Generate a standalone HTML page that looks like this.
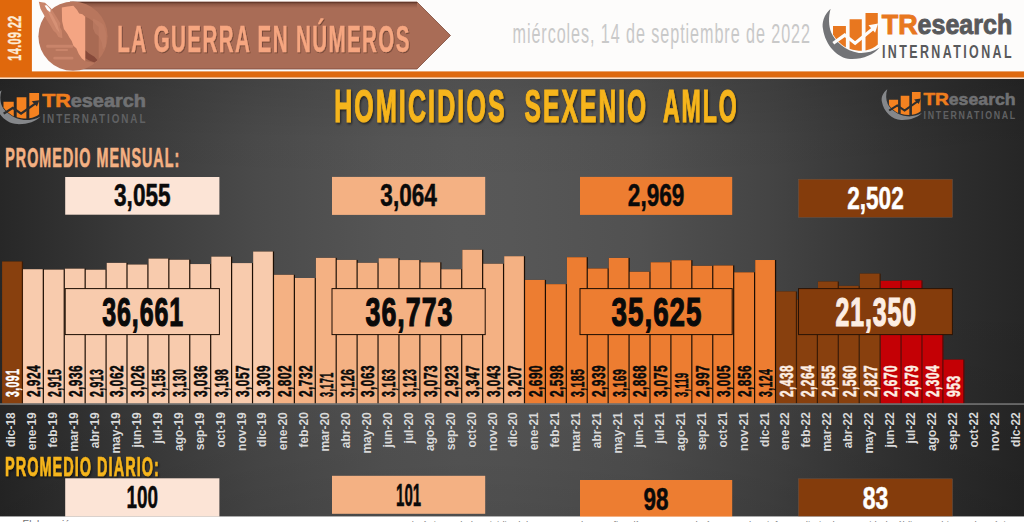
<!DOCTYPE html>
<html lang="es"><head><meta charset="utf-8"><title>La guerra en números - Homicidios sexenio AMLO</title>
<style>html,body{margin:0;padding:0;background:#ffffff;}body{width:1024px;height:522px;overflow:hidden;}svg{display:block;font-family:"Liberation Sans",sans-serif;}</style>
</head><body>
<svg width="1024" height="522" viewBox="0 0 1024 522">
<defs>
<linearGradient id="bg" gradientUnits="userSpaceOnUse" x1="0" y1="0" x2="1024" y2="0">
<stop offset="0" stop-color="#272727"/><stop offset="0.125" stop-color="#3a3a3a"/><stop offset="0.25" stop-color="#4a4a4a"/><stop offset="0.375" stop-color="#555555"/><stop offset="0.45" stop-color="#585858"/><stop offset="0.5" stop-color="#575757"/><stop offset="0.625" stop-color="#515151"/><stop offset="0.75" stop-color="#444444"/><stop offset="0.875" stop-color="#333333"/><stop offset="1" stop-color="#262626"/>
</linearGradient>
<linearGradient id="bgv" gradientUnits="userSpaceOnUse" x1="0" y1="79" x2="0" y2="517">
<stop offset="0" stop-color="#000" stop-opacity="0.10"/><stop offset="0.14" stop-color="#000" stop-opacity="0.012"/><stop offset="0.28" stop-color="#000" stop-opacity="0"/><stop offset="0.5" stop-color="#000" stop-opacity="0"/><stop offset="0.88" stop-color="#000" stop-opacity="0.085"/><stop offset="1" stop-color="#000" stop-opacity="0.12"/>
</linearGradient>
<filter id="ts2" x="-5%" y="-20%" width="110%" height="150%"><feDropShadow dx="0.8" dy="1" stdDeviation="0.6" flood-color="#3a1a10" flood-opacity="0.55"/></filter>
<linearGradient id="rsh" x1="0" y1="0" x2="0" y2="1"><stop offset="0" stop-color="#4a251a" stop-opacity="0.75"/><stop offset="0.35" stop-color="#4a251a" stop-opacity="0.3"/><stop offset="1" stop-color="#4a251a" stop-opacity="0"/></linearGradient>
<filter id="ts" x="-5%" y="-20%" width="110%" height="150%"><feDropShadow dx="1" dy="1.5" stdDeviation="0.8" flood-color="#000" flood-opacity="0.6"/></filter>
</defs>
<rect x="0" y="0" width="1024" height="80" fill="#fdfcfb"/>
<rect x="0" y="0" width="31.9" height="77" fill="#e0680c"/>
<rect x="0" y="71.4" width="1024" height="6.3" fill="#de690f"/>
<rect x="0" y="77.7" width="1024" height="1.4" fill="#f9dfc8"/>
<text transform="translate(21.14 60.70) rotate(-90)" font-size="18.20" font-weight="bold" fill="#fdebd6" letter-spacing="0.80" textLength="45.47" lengthAdjust="spacingAndGlyphs" stroke="#fdebd6" stroke-width="0.4">14.09.22</text>
<polygon points="70,2 417,2 450.5,35.5 417,69 70,69" fill="#a96c56" stroke="#7d4a3a" stroke-width="0.8"/>
<rect x="70" y="2" width="347" height="6" fill="url(#rsh)"/>
<circle cx="73" cy="36.2" r="34.6" fill="#b8765d"/>
<polygon points="85.2,16.7 88.7,18.2 93.0,21.3 95.8,24.4 98.7,27.0 98.7,59.6 93.0,62.4 85.2,61.0" fill="#a86a53" opacity="1"/>
<polygon points="93.0,18.4 98.7,21.3 103.6,24.8 106.5,34.0 105.8,46.8 102.9,49.6 101.8,42.6 98.7,36.2 95.1,33.3 93.0,28.4" fill="#c07f66" opacity="0.6"/>
<polygon points="61.8,7.4 67.5,6.4 73.4,5.7 77.1,9.9 79.1,13.5 82.4,14.2 85.2,16.7 85.2,61.0 81.9,58.4 78.8,53.9 76.3,48.2 73.4,45.7 71.7,41.1 69.2,37.2 67.5,34.0 63.9,29.1 62.1,21.3" fill="#f4a583" opacity="1"/>
<polygon points="38.8,1.7 45.0,2.8 51.1,8.5 57.0,17.7 60.4,23.4 59.8,27.0 61.8,30.5 62.4,38.3 58.4,36.9 56.1,32.9 53.3,30.5 50.2,25.2 46.2,19.1 40.5,8.8" fill="#c98469" opacity="1"/>
<polygon points="46.2,8.2 51.9,13.9 57.0,23.4 59.8,32.9 56.1,28.4 51.1,18.4" fill="#d9967a" opacity="0.75"/>
<polygon points="44.6,5.6 46.8,5.2 50.6,9.6 50.2,12.2 47.0,9.8" fill="#fdfcfb"/>
<polygon points="85.6,50.4 88.7,53.2 94.4,56.7 97.5,60.3 94.4,62.4 88.7,60.3 85.6,58.2" fill="#86493a" opacity="1"/>
<rect x="46.2" y="44.7" width="27.0" height="3.0" rx="1.2" fill="#cb876c" opacity="0.85"/>
<rect x="55.4" y="48.9" width="12.8" height="2.1" rx="1.2" fill="#cb876c" opacity="0.85"/>
<rect x="53.3" y="56.7" width="20.1" height="2.8" rx="1.2" fill="#cb876c" opacity="0.85"/>
<text x="117.20" y="52.40" font-size="37.50" font-weight="bold" fill="#f6a680" letter-spacing="2.50" textLength="293.67" lengthAdjust="spacingAndGlyphs" filter="url(#ts2)" stroke="#f6a680" stroke-width="0.4">LA GUERRA EN NÚMEROS</text>
<text x="512.50" y="42.80" font-size="28.00" font-weight="normal" fill="#c9c9c9" letter-spacing="1.60" textLength="298.42" lengthAdjust="spacingAndGlyphs" >miércoles, 14 de septiembre de 2022</text>
<g transform="translate(881.70 15.00) scale(1.0000 1.0000)" opacity="1">
<path d="M -51.1 -6.3 C -58 0, -60 8, -58.7 14 C -56.5 30, -44 43.5, -31.5 44 C -19 44.5, -8 40, -2.1 32.6 C -9 37, -17 38.5, -22.9 37.9 C -36 36.5, -47 26, -50.5 17.6 C -53 11, -53.5 2, -51.1 -6.3 Z" fill="#737477"/>
<path d="M -48.7 10.9 L -35.8 10.9 L -35.8 32.6 C -41 29.5, -45.5 25, -48.7 19.5 Z" fill="#e8771f"/>
<path d="M -32.1 4.2 L -19.9 4.2 L -19.9 35.8 C -24 35.8, -28 35.2, -32.1 33.8 Z" fill="#e8771f"/>
<path d="M -16.2 -2 L -3.9 -2 L -3.9 29.5 C -7 32.5, -11 34.6, -16.2 35.5 Z" fill="#e8771f"/>
<path d="M -48.4 28.3 L -37 20.1 L -26.6 28.3 L -8.5 13.5" fill="none" stroke="#fdfcfb" stroke-width="3.2" stroke-linejoin="miter"/>
<path d="M -13.2 10.2 L -3.6 8.6 L -6.6 17.8 Z" fill="#fdfcfb"/>
<text x="0" y="18.9" font-size="27.4" font-weight="bold" fill="#e8771f" stroke="#e8771f" stroke-width="0.9" textLength="35.9" lengthAdjust="spacingAndGlyphs">TR</text>
<text x="35.9" y="18.9" font-size="27.4" font-weight="bold" fill="#58595b" stroke="#58595b" stroke-width="0.9" textLength="94.6" lengthAdjust="spacingAndGlyphs">esearch</text>
<text x="0.3" y="42.8" font-size="18.6" font-weight="bold" fill="#58595b" letter-spacing="3.6" textLength="132.0" lengthAdjust="spacingAndGlyphs">INTERNATIONAL</text>
</g>
<rect x="0" y="79.0" width="1024" height="437.7" fill="url(#bg)"/>
<rect x="0" y="79.0" width="1024" height="437.7" fill="url(#bgv)"/>
<g transform="translate(42.20 94.40) scale(0.7950 0.6750)" opacity="1">
<path d="M -51.1 -6.3 C -58 0, -60 8, -58.7 14 C -56.5 30, -44 43.5, -31.5 44 C -19 44.5, -8 40, -2.1 32.6 C -9 37, -17 38.5, -22.9 37.9 C -36 36.5, -47 26, -50.5 17.6 C -53 11, -53.5 2, -51.1 -6.3 Z" fill="#85878a"/>
<path d="M -48.7 10.9 L -35.8 10.9 L -35.8 32.6 C -41 29.5, -45.5 25, -48.7 19.5 Z" fill="#f58220"/>
<path d="M -32.1 4.2 L -19.9 4.2 L -19.9 35.8 C -24 35.8, -28 35.2, -32.1 33.8 Z" fill="#f58220"/>
<path d="M -16.2 -2 L -3.9 -2 L -3.9 29.5 C -7 32.5, -11 34.6, -16.2 35.5 Z" fill="#f58220"/>
<path d="M -48.4 28.3 L -37 20.1 L -26.6 28.3 L -8.5 13.5" fill="none" stroke="#2e2e2e" stroke-width="3.2" stroke-linejoin="miter"/>
<path d="M -13.2 10.2 L -3.6 8.6 L -6.6 17.8 Z" fill="#2e2e2e"/>
<text x="0" y="18.9" font-size="27.4" font-weight="bold" fill="#ef7d1d" stroke="#ef7d1d" stroke-width="0.9" textLength="35.9" lengthAdjust="spacingAndGlyphs">TR</text>
<text x="35.9" y="18.9" font-size="27.4" font-weight="bold" fill="#707173" stroke="#707173" stroke-width="0.9" textLength="94.6" lengthAdjust="spacingAndGlyphs">esearch</text>
<text x="0.3" y="42.8" font-size="18.6" font-weight="bold" fill="#606163" letter-spacing="3.6" textLength="132.0" lengthAdjust="spacingAndGlyphs">INTERNATIONAL</text>
</g>
<g transform="translate(923.40 93.20) scale(0.7070 0.6100)" opacity="1">
<path d="M -51.1 -6.3 C -58 0, -60 8, -58.7 14 C -56.5 30, -44 43.5, -31.5 44 C -19 44.5, -8 40, -2.1 32.6 C -9 37, -17 38.5, -22.9 37.9 C -36 36.5, -47 26, -50.5 17.6 C -53 11, -53.5 2, -51.1 -6.3 Z" fill="#85878a"/>
<path d="M -48.7 10.9 L -35.8 10.9 L -35.8 32.6 C -41 29.5, -45.5 25, -48.7 19.5 Z" fill="#f58220"/>
<path d="M -32.1 4.2 L -19.9 4.2 L -19.9 35.8 C -24 35.8, -28 35.2, -32.1 33.8 Z" fill="#f58220"/>
<path d="M -16.2 -2 L -3.9 -2 L -3.9 29.5 C -7 32.5, -11 34.6, -16.2 35.5 Z" fill="#f58220"/>
<path d="M -48.4 28.3 L -37 20.1 L -26.6 28.3 L -8.5 13.5" fill="none" stroke="#2e2e2e" stroke-width="3.2" stroke-linejoin="miter"/>
<path d="M -13.2 10.2 L -3.6 8.6 L -6.6 17.8 Z" fill="#2e2e2e"/>
<text x="0" y="18.9" font-size="27.4" font-weight="bold" fill="#ef7d1d" stroke="#ef7d1d" stroke-width="0.9" textLength="35.9" lengthAdjust="spacingAndGlyphs">TR</text>
<text x="35.9" y="18.9" font-size="27.4" font-weight="bold" fill="#707173" stroke="#707173" stroke-width="0.9" textLength="94.6" lengthAdjust="spacingAndGlyphs">esearch</text>
<text x="0.3" y="42.8" font-size="18.6" font-weight="bold" fill="#606163" letter-spacing="3.6" textLength="132.0" lengthAdjust="spacingAndGlyphs">INTERNATIONAL</text>
</g>
<g filter="url(#ts)">
<text x="334.20" y="121.60" font-size="46.60" font-weight="bold" fill="#f6b51b" letter-spacing="4.00" textLength="172.54" lengthAdjust="spacingAndGlyphs" stroke="#f6b51b" stroke-width="1.2">HOMICIDIOS</text>
<text x="524.60" y="121.60" font-size="46.60" font-weight="bold" fill="#f6b51b" letter-spacing="4.00" textLength="123.70" lengthAdjust="spacingAndGlyphs" stroke="#f6b51b" stroke-width="1.2">SEXENIO</text>
<text x="662.90" y="121.60" font-size="46.60" font-weight="bold" fill="#f6b51b" letter-spacing="4.00" textLength="75.88" lengthAdjust="spacingAndGlyphs" stroke="#f6b51b" stroke-width="1.2">AMLO</text>
</g>
<text x="5.20" y="166.90" font-size="27.20" font-weight="bold" fill="#f4b183" letter-spacing="2.00" textLength="175.15" lengthAdjust="spacingAndGlyphs" stroke="#f4b183" stroke-width="0.7">PROMEDIO MENSUAL:</text>
<g filter="url(#ts)">
<text x="5.00" y="475.60" font-size="28.00" font-weight="bold" fill="#f6b51b" letter-spacing="2.00" textLength="154.83" lengthAdjust="spacingAndGlyphs" stroke="#f6b51b" stroke-width="0.7">PROMEDIO DIARIO:</text>
</g>
<rect x="2.10" y="261.52" width="20.92" height="141.88" fill="#3c1c07"/>
<rect x="2.10" y="261.52" width="19.70" height="142.18" fill="#88400e"/>
<rect x="23.02" y="269.19" width="20.92" height="134.21" fill="#1c0d02"/>
<rect x="23.02" y="269.19" width="19.70" height="134.51" fill="#f8cbad"/>
<rect x="43.94" y="269.60" width="20.92" height="133.80" fill="#1c0d02"/>
<rect x="43.94" y="269.60" width="19.70" height="134.10" fill="#f8cbad"/>
<rect x="64.86" y="268.64" width="20.92" height="134.76" fill="#1c0d02"/>
<rect x="64.86" y="268.64" width="19.70" height="135.06" fill="#f8cbad"/>
<rect x="85.78" y="269.69" width="20.92" height="133.71" fill="#1c0d02"/>
<rect x="85.78" y="269.69" width="19.70" height="134.01" fill="#f8cbad"/>
<rect x="106.70" y="262.85" width="20.92" height="140.55" fill="#1c0d02"/>
<rect x="106.70" y="262.85" width="19.70" height="140.85" fill="#f8cbad"/>
<rect x="127.62" y="264.51" width="20.92" height="138.89" fill="#1c0d02"/>
<rect x="127.62" y="264.51" width="19.70" height="139.19" fill="#f8cbad"/>
<rect x="148.54" y="258.59" width="20.92" height="144.81" fill="#1c0d02"/>
<rect x="148.54" y="258.59" width="19.70" height="145.11" fill="#f8cbad"/>
<rect x="169.46" y="259.73" width="20.92" height="143.67" fill="#1c0d02"/>
<rect x="169.46" y="259.73" width="19.70" height="143.97" fill="#f8cbad"/>
<rect x="190.38" y="264.05" width="20.92" height="139.35" fill="#1c0d02"/>
<rect x="190.38" y="264.05" width="19.70" height="139.65" fill="#f8cbad"/>
<rect x="211.30" y="256.61" width="20.92" height="146.79" fill="#1c0d02"/>
<rect x="211.30" y="256.61" width="19.70" height="147.09" fill="#f8cbad"/>
<rect x="232.22" y="263.08" width="20.92" height="140.32" fill="#1c0d02"/>
<rect x="232.22" y="263.08" width="19.70" height="140.62" fill="#f8cbad"/>
<rect x="253.14" y="251.52" width="20.92" height="151.88" fill="#1c0d02"/>
<rect x="253.14" y="251.52" width="19.70" height="152.18" fill="#f8cbad"/>
<rect x="274.06" y="274.79" width="20.92" height="128.61" fill="#1c0d02"/>
<rect x="274.06" y="274.79" width="19.70" height="128.91" fill="#f4b183"/>
<rect x="294.98" y="278.00" width="20.92" height="125.40" fill="#1c0d02"/>
<rect x="294.98" y="278.00" width="19.70" height="125.70" fill="#f4b183"/>
<rect x="315.90" y="257.85" width="20.92" height="145.55" fill="#1c0d02"/>
<rect x="315.90" y="257.85" width="19.70" height="145.85" fill="#f4b183"/>
<rect x="336.82" y="259.92" width="20.92" height="143.48" fill="#1c0d02"/>
<rect x="336.82" y="259.92" width="19.70" height="143.78" fill="#f4b183"/>
<rect x="357.74" y="262.81" width="20.92" height="140.59" fill="#1c0d02"/>
<rect x="357.74" y="262.81" width="19.70" height="140.89" fill="#f4b183"/>
<rect x="378.66" y="258.22" width="20.92" height="145.18" fill="#1c0d02"/>
<rect x="378.66" y="258.22" width="19.70" height="145.48" fill="#f4b183"/>
<rect x="399.58" y="260.05" width="20.92" height="143.35" fill="#1c0d02"/>
<rect x="399.58" y="260.05" width="19.70" height="143.65" fill="#f4b183"/>
<rect x="420.50" y="262.35" width="20.92" height="141.05" fill="#1c0d02"/>
<rect x="420.50" y="262.35" width="19.70" height="141.35" fill="#f4b183"/>
<rect x="441.42" y="269.23" width="20.92" height="134.17" fill="#1c0d02"/>
<rect x="441.42" y="269.23" width="19.70" height="134.47" fill="#f4b183"/>
<rect x="462.34" y="249.77" width="20.92" height="153.63" fill="#1c0d02"/>
<rect x="462.34" y="249.77" width="19.70" height="153.93" fill="#f4b183"/>
<rect x="483.26" y="263.73" width="20.92" height="139.67" fill="#1c0d02"/>
<rect x="483.26" y="263.73" width="19.70" height="139.97" fill="#f4b183"/>
<rect x="504.18" y="256.20" width="20.92" height="147.20" fill="#1c0d02"/>
<rect x="504.18" y="256.20" width="19.70" height="147.50" fill="#f4b183"/>
<rect x="525.10" y="279.93" width="20.92" height="123.47" fill="#1c0d02"/>
<rect x="525.10" y="279.93" width="19.70" height="123.77" fill="#ed7d31"/>
<rect x="546.02" y="284.15" width="20.92" height="119.25" fill="#1c0d02"/>
<rect x="546.02" y="284.15" width="19.70" height="119.55" fill="#ed7d31"/>
<rect x="566.94" y="257.21" width="20.92" height="146.19" fill="#1c0d02"/>
<rect x="566.94" y="257.21" width="19.70" height="146.49" fill="#ed7d31"/>
<rect x="587.86" y="268.50" width="20.92" height="134.90" fill="#1c0d02"/>
<rect x="587.86" y="268.50" width="19.70" height="135.20" fill="#ed7d31"/>
<rect x="608.78" y="257.94" width="20.92" height="145.46" fill="#1c0d02"/>
<rect x="608.78" y="257.94" width="19.70" height="145.76" fill="#ed7d31"/>
<rect x="629.70" y="271.76" width="20.92" height="131.64" fill="#1c0d02"/>
<rect x="629.70" y="271.76" width="19.70" height="131.94" fill="#ed7d31"/>
<rect x="650.62" y="262.26" width="20.92" height="141.14" fill="#1c0d02"/>
<rect x="650.62" y="262.26" width="19.70" height="141.44" fill="#ed7d31"/>
<rect x="671.54" y="260.24" width="20.92" height="143.16" fill="#1c0d02"/>
<rect x="671.54" y="260.24" width="19.70" height="143.46" fill="#ed7d31"/>
<rect x="692.46" y="265.84" width="20.92" height="137.56" fill="#1c0d02"/>
<rect x="692.46" y="265.84" width="19.70" height="137.86" fill="#ed7d31"/>
<rect x="713.38" y="265.47" width="20.92" height="137.93" fill="#1c0d02"/>
<rect x="713.38" y="265.47" width="19.70" height="138.23" fill="#ed7d31"/>
<rect x="734.30" y="272.31" width="20.92" height="131.09" fill="#1c0d02"/>
<rect x="734.30" y="272.31" width="19.70" height="131.39" fill="#ed7d31"/>
<rect x="755.22" y="260.01" width="20.92" height="143.39" fill="#1c0d02"/>
<rect x="755.22" y="260.01" width="19.70" height="143.69" fill="#ed7d31"/>
<rect x="776.14" y="291.50" width="20.92" height="111.90" fill="#3c1c07"/>
<rect x="776.14" y="291.50" width="19.70" height="112.20" fill="#88400e"/>
<rect x="797.06" y="299.48" width="20.92" height="103.92" fill="#3c1c07"/>
<rect x="797.06" y="299.48" width="19.70" height="104.22" fill="#88400e"/>
<rect x="817.98" y="281.54" width="20.92" height="121.86" fill="#3c1c07"/>
<rect x="817.98" y="281.54" width="19.70" height="122.16" fill="#88400e"/>
<rect x="838.90" y="285.90" width="20.92" height="117.50" fill="#3c1c07"/>
<rect x="838.90" y="285.90" width="19.70" height="117.80" fill="#88400e"/>
<rect x="859.82" y="273.64" width="20.92" height="129.76" fill="#3c1c07"/>
<rect x="859.82" y="273.64" width="19.70" height="130.06" fill="#88400e"/>
<rect x="880.74" y="280.85" width="20.92" height="122.55" fill="#5e0805"/>
<rect x="880.74" y="280.85" width="19.70" height="122.85" fill="#c40005"/>
<rect x="901.66" y="280.43" width="20.92" height="122.97" fill="#5e0805"/>
<rect x="901.66" y="280.43" width="19.70" height="123.27" fill="#c40005"/>
<rect x="922.58" y="297.65" width="20.92" height="105.75" fill="#5e0805"/>
<rect x="922.58" y="297.65" width="19.70" height="106.05" fill="#c40005"/>
<rect x="943.50" y="359.66" width="20.92" height="43.74" fill="#5e0805"/>
<rect x="943.50" y="359.66" width="19.70" height="44.04" fill="#c40005"/>
<rect x="0" y="403.3" width="1024" height="1.5" fill="#787878"/>
<rect x="65.20" y="288.6" width="154.20" height="46" fill="#f8cbad" stroke="#1c0d02" stroke-width="1"/>
<rect x="332.00" y="288.6" width="153.20" height="46" fill="#f4b183" stroke="#1c0d02" stroke-width="1"/>
<rect x="580.00" y="288.6" width="152.20" height="46" fill="#ed7d31" stroke="#1c0d02" stroke-width="1"/>
<rect x="798.50" y="288.6" width="153.90" height="46" fill="#843c0c" stroke="#2a1305" stroke-width="1"/>
<text transform="translate(18.83 397.00) rotate(-90)" font-size="18.60" font-weight="bold" fill="#ffffff" letter-spacing="0.80" textLength="28.35" lengthAdjust="spacingAndGlyphs" stroke="#ffffff" stroke-width="0.55">3,091</text>
<text transform="translate(39.75 397.00) rotate(-90)" font-size="18.60" font-weight="bold" fill="#0a0a0a" letter-spacing="0.80" textLength="32.11" lengthAdjust="spacingAndGlyphs" stroke="#0a0a0a" stroke-width="0.55">2,924</text>
<text transform="translate(60.67 397.00) rotate(-90)" font-size="18.60" font-weight="bold" fill="#0a0a0a" letter-spacing="0.80" textLength="28.35" lengthAdjust="spacingAndGlyphs" stroke="#0a0a0a" stroke-width="0.55">2,915</text>
<text transform="translate(81.59 397.00) rotate(-90)" font-size="18.60" font-weight="bold" fill="#0a0a0a" letter-spacing="0.80" textLength="32.11" lengthAdjust="spacingAndGlyphs" stroke="#0a0a0a" stroke-width="0.55">2,936</text>
<text transform="translate(102.51 397.00) rotate(-90)" font-size="18.60" font-weight="bold" fill="#0a0a0a" letter-spacing="0.80" textLength="28.35" lengthAdjust="spacingAndGlyphs" stroke="#0a0a0a" stroke-width="0.55">2,913</text>
<text transform="translate(123.43 397.00) rotate(-90)" font-size="18.60" font-weight="bold" fill="#0a0a0a" letter-spacing="0.80" textLength="32.11" lengthAdjust="spacingAndGlyphs" stroke="#0a0a0a" stroke-width="0.55">3,062</text>
<text transform="translate(144.35 397.00) rotate(-90)" font-size="18.60" font-weight="bold" fill="#0a0a0a" letter-spacing="0.80" textLength="32.11" lengthAdjust="spacingAndGlyphs" stroke="#0a0a0a" stroke-width="0.55">3,026</text>
<text transform="translate(165.27 397.00) rotate(-90)" font-size="18.60" font-weight="bold" fill="#0a0a0a" letter-spacing="0.80" textLength="28.35" lengthAdjust="spacingAndGlyphs" stroke="#0a0a0a" stroke-width="0.55">3,155</text>
<text transform="translate(186.19 397.00) rotate(-90)" font-size="18.60" font-weight="bold" fill="#0a0a0a" letter-spacing="0.80" textLength="28.35" lengthAdjust="spacingAndGlyphs" stroke="#0a0a0a" stroke-width="0.55">3,130</text>
<text transform="translate(207.11 397.00) rotate(-90)" font-size="18.60" font-weight="bold" fill="#0a0a0a" letter-spacing="0.80" textLength="32.11" lengthAdjust="spacingAndGlyphs" stroke="#0a0a0a" stroke-width="0.55">3,036</text>
<text transform="translate(228.03 397.00) rotate(-90)" font-size="18.60" font-weight="bold" fill="#0a0a0a" letter-spacing="0.80" textLength="28.35" lengthAdjust="spacingAndGlyphs" stroke="#0a0a0a" stroke-width="0.55">3,198</text>
<text transform="translate(248.95 397.00) rotate(-90)" font-size="18.60" font-weight="bold" fill="#0a0a0a" letter-spacing="0.80" textLength="32.11" lengthAdjust="spacingAndGlyphs" stroke="#0a0a0a" stroke-width="0.55">3,057</text>
<text transform="translate(269.87 397.00) rotate(-90)" font-size="18.60" font-weight="bold" fill="#0a0a0a" letter-spacing="0.80" textLength="32.11" lengthAdjust="spacingAndGlyphs" stroke="#0a0a0a" stroke-width="0.55">3,309</text>
<text transform="translate(290.79 397.00) rotate(-90)" font-size="18.60" font-weight="bold" fill="#0a0a0a" letter-spacing="0.80" textLength="32.11" lengthAdjust="spacingAndGlyphs" stroke="#0a0a0a" stroke-width="0.55">2,802</text>
<text transform="translate(311.71 397.00) rotate(-90)" font-size="18.60" font-weight="bold" fill="#0a0a0a" letter-spacing="0.80" textLength="32.11" lengthAdjust="spacingAndGlyphs" stroke="#0a0a0a" stroke-width="0.55">2,732</text>
<text transform="translate(332.63 397.00) rotate(-90)" font-size="18.60" font-weight="bold" fill="#0a0a0a" letter-spacing="0.80" textLength="24.59" lengthAdjust="spacingAndGlyphs" stroke="#0a0a0a" stroke-width="0.55">3,171</text>
<text transform="translate(353.55 397.00) rotate(-90)" font-size="18.60" font-weight="bold" fill="#0a0a0a" letter-spacing="0.80" textLength="28.35" lengthAdjust="spacingAndGlyphs" stroke="#0a0a0a" stroke-width="0.55">3,126</text>
<text transform="translate(374.47 397.00) rotate(-90)" font-size="18.60" font-weight="bold" fill="#0a0a0a" letter-spacing="0.80" textLength="32.11" lengthAdjust="spacingAndGlyphs" stroke="#0a0a0a" stroke-width="0.55">3,063</text>
<text transform="translate(395.39 397.00) rotate(-90)" font-size="18.60" font-weight="bold" fill="#0a0a0a" letter-spacing="0.80" textLength="28.35" lengthAdjust="spacingAndGlyphs" stroke="#0a0a0a" stroke-width="0.55">3,163</text>
<text transform="translate(416.31 397.00) rotate(-90)" font-size="18.60" font-weight="bold" fill="#0a0a0a" letter-spacing="0.80" textLength="28.35" lengthAdjust="spacingAndGlyphs" stroke="#0a0a0a" stroke-width="0.55">3,123</text>
<text transform="translate(437.23 397.00) rotate(-90)" font-size="18.60" font-weight="bold" fill="#0a0a0a" letter-spacing="0.80" textLength="32.11" lengthAdjust="spacingAndGlyphs" stroke="#0a0a0a" stroke-width="0.55">3,073</text>
<text transform="translate(458.15 397.00) rotate(-90)" font-size="18.60" font-weight="bold" fill="#0a0a0a" letter-spacing="0.80" textLength="32.11" lengthAdjust="spacingAndGlyphs" stroke="#0a0a0a" stroke-width="0.55">2,923</text>
<text transform="translate(479.07 397.00) rotate(-90)" font-size="18.60" font-weight="bold" fill="#0a0a0a" letter-spacing="0.80" textLength="32.11" lengthAdjust="spacingAndGlyphs" stroke="#0a0a0a" stroke-width="0.55">3,347</text>
<text transform="translate(499.99 397.00) rotate(-90)" font-size="18.60" font-weight="bold" fill="#0a0a0a" letter-spacing="0.80" textLength="32.11" lengthAdjust="spacingAndGlyphs" stroke="#0a0a0a" stroke-width="0.55">3,043</text>
<text transform="translate(520.91 397.00) rotate(-90)" font-size="18.60" font-weight="bold" fill="#0a0a0a" letter-spacing="0.80" textLength="32.11" lengthAdjust="spacingAndGlyphs" stroke="#0a0a0a" stroke-width="0.55">3,207</text>
<text transform="translate(541.83 397.00) rotate(-90)" font-size="18.60" font-weight="bold" fill="#0a0a0a" letter-spacing="0.80" textLength="32.11" lengthAdjust="spacingAndGlyphs" stroke="#0a0a0a" stroke-width="0.55">2,690</text>
<text transform="translate(562.75 397.00) rotate(-90)" font-size="18.60" font-weight="bold" fill="#0a0a0a" letter-spacing="0.80" textLength="32.11" lengthAdjust="spacingAndGlyphs" stroke="#0a0a0a" stroke-width="0.55">2,598</text>
<text transform="translate(583.67 397.00) rotate(-90)" font-size="18.60" font-weight="bold" fill="#0a0a0a" letter-spacing="0.80" textLength="28.35" lengthAdjust="spacingAndGlyphs" stroke="#0a0a0a" stroke-width="0.55">3,185</text>
<text transform="translate(604.59 397.00) rotate(-90)" font-size="18.60" font-weight="bold" fill="#0a0a0a" letter-spacing="0.80" textLength="32.11" lengthAdjust="spacingAndGlyphs" stroke="#0a0a0a" stroke-width="0.55">2,939</text>
<text transform="translate(625.51 397.00) rotate(-90)" font-size="18.60" font-weight="bold" fill="#0a0a0a" letter-spacing="0.80" textLength="28.35" lengthAdjust="spacingAndGlyphs" stroke="#0a0a0a" stroke-width="0.55">3,169</text>
<text transform="translate(646.43 397.00) rotate(-90)" font-size="18.60" font-weight="bold" fill="#0a0a0a" letter-spacing="0.80" textLength="32.11" lengthAdjust="spacingAndGlyphs" stroke="#0a0a0a" stroke-width="0.55">2,868</text>
<text transform="translate(667.35 397.00) rotate(-90)" font-size="18.60" font-weight="bold" fill="#0a0a0a" letter-spacing="0.80" textLength="32.11" lengthAdjust="spacingAndGlyphs" stroke="#0a0a0a" stroke-width="0.55">3,075</text>
<text transform="translate(688.27 397.00) rotate(-90)" font-size="18.60" font-weight="bold" fill="#0a0a0a" letter-spacing="0.80" textLength="24.59" lengthAdjust="spacingAndGlyphs" stroke="#0a0a0a" stroke-width="0.55">3,119</text>
<text transform="translate(709.19 397.00) rotate(-90)" font-size="18.60" font-weight="bold" fill="#0a0a0a" letter-spacing="0.80" textLength="32.11" lengthAdjust="spacingAndGlyphs" stroke="#0a0a0a" stroke-width="0.55">2,997</text>
<text transform="translate(730.11 397.00) rotate(-90)" font-size="18.60" font-weight="bold" fill="#0a0a0a" letter-spacing="0.80" textLength="32.11" lengthAdjust="spacingAndGlyphs" stroke="#0a0a0a" stroke-width="0.55">3,005</text>
<text transform="translate(751.03 397.00) rotate(-90)" font-size="18.60" font-weight="bold" fill="#0a0a0a" letter-spacing="0.80" textLength="32.11" lengthAdjust="spacingAndGlyphs" stroke="#0a0a0a" stroke-width="0.55">2,856</text>
<text transform="translate(771.95 397.00) rotate(-90)" font-size="18.60" font-weight="bold" fill="#0a0a0a" letter-spacing="0.80" textLength="28.35" lengthAdjust="spacingAndGlyphs" stroke="#0a0a0a" stroke-width="0.55">3,124</text>
<text transform="translate(792.87 397.00) rotate(-90)" font-size="18.60" font-weight="bold" fill="#fdeee3" letter-spacing="0.80" textLength="32.11" lengthAdjust="spacingAndGlyphs" stroke="#fdeee3" stroke-width="0.55">2,438</text>
<text transform="translate(813.79 397.00) rotate(-90)" font-size="18.60" font-weight="bold" fill="#fdeee3" letter-spacing="0.80" textLength="32.11" lengthAdjust="spacingAndGlyphs" stroke="#fdeee3" stroke-width="0.55">2,264</text>
<text transform="translate(834.71 397.00) rotate(-90)" font-size="18.60" font-weight="bold" fill="#fdeee3" letter-spacing="0.80" textLength="32.11" lengthAdjust="spacingAndGlyphs" stroke="#fdeee3" stroke-width="0.55">2,655</text>
<text transform="translate(855.63 397.00) rotate(-90)" font-size="18.60" font-weight="bold" fill="#fdeee3" letter-spacing="0.80" textLength="32.11" lengthAdjust="spacingAndGlyphs" stroke="#fdeee3" stroke-width="0.55">2,560</text>
<text transform="translate(876.55 397.00) rotate(-90)" font-size="18.60" font-weight="bold" fill="#fdeee3" letter-spacing="0.80" textLength="32.11" lengthAdjust="spacingAndGlyphs" stroke="#fdeee3" stroke-width="0.55">2,827</text>
<text transform="translate(897.47 397.00) rotate(-90)" font-size="18.60" font-weight="bold" fill="#fdeee3" letter-spacing="0.80" textLength="32.11" lengthAdjust="spacingAndGlyphs" stroke="#fdeee3" stroke-width="0.55">2,670</text>
<text transform="translate(918.39 397.00) rotate(-90)" font-size="18.60" font-weight="bold" fill="#fdeee3" letter-spacing="0.80" textLength="32.11" lengthAdjust="spacingAndGlyphs" stroke="#fdeee3" stroke-width="0.55">2,679</text>
<text transform="translate(939.31 397.00) rotate(-90)" font-size="18.60" font-weight="bold" fill="#fdeee3" letter-spacing="0.80" textLength="32.11" lengthAdjust="spacingAndGlyphs" stroke="#fdeee3" stroke-width="0.55">2,304</text>
<text transform="translate(960.23 397.00) rotate(-90)" font-size="18.60" font-weight="bold" fill="#fdeee3" letter-spacing="0.80" textLength="21.82" lengthAdjust="spacingAndGlyphs" stroke="#fdeee3" stroke-width="0.55">953</text>
<text transform="translate(15.40 412.2) rotate(-90)" font-size="12" font-weight="bold" fill="#d9d9d9" text-anchor="end">dic-18</text>
<text transform="translate(36.32 412.2) rotate(-90)" font-size="12" font-weight="bold" fill="#d9d9d9" text-anchor="end">ene-19</text>
<text transform="translate(57.24 412.2) rotate(-90)" font-size="12" font-weight="bold" fill="#d9d9d9" text-anchor="end">feb-19</text>
<text transform="translate(78.16 412.2) rotate(-90)" font-size="12" font-weight="bold" fill="#d9d9d9" text-anchor="end">mar-19</text>
<text transform="translate(99.08 412.2) rotate(-90)" font-size="12" font-weight="bold" fill="#d9d9d9" text-anchor="end">abr-19</text>
<text transform="translate(120.00 412.2) rotate(-90)" font-size="12" font-weight="bold" fill="#d9d9d9" text-anchor="end">may-19</text>
<text transform="translate(140.92 412.2) rotate(-90)" font-size="12" font-weight="bold" fill="#d9d9d9" text-anchor="end">jun-19</text>
<text transform="translate(161.84 412.2) rotate(-90)" font-size="12" font-weight="bold" fill="#d9d9d9" text-anchor="end">jul-19</text>
<text transform="translate(182.76 412.2) rotate(-90)" font-size="12" font-weight="bold" fill="#d9d9d9" text-anchor="end">ago-19</text>
<text transform="translate(203.68 412.2) rotate(-90)" font-size="12" font-weight="bold" fill="#d9d9d9" text-anchor="end">sep-19</text>
<text transform="translate(224.60 412.2) rotate(-90)" font-size="12" font-weight="bold" fill="#d9d9d9" text-anchor="end">oct-19</text>
<text transform="translate(245.52 412.2) rotate(-90)" font-size="12" font-weight="bold" fill="#d9d9d9" text-anchor="end">nov-19</text>
<text transform="translate(266.44 412.2) rotate(-90)" font-size="12" font-weight="bold" fill="#d9d9d9" text-anchor="end">dic-19</text>
<text transform="translate(287.36 412.2) rotate(-90)" font-size="12" font-weight="bold" fill="#d9d9d9" text-anchor="end">ene-20</text>
<text transform="translate(308.28 412.2) rotate(-90)" font-size="12" font-weight="bold" fill="#d9d9d9" text-anchor="end">feb-20</text>
<text transform="translate(329.20 412.2) rotate(-90)" font-size="12" font-weight="bold" fill="#d9d9d9" text-anchor="end">mar-20</text>
<text transform="translate(350.12 412.2) rotate(-90)" font-size="12" font-weight="bold" fill="#d9d9d9" text-anchor="end">abr-20</text>
<text transform="translate(371.04 412.2) rotate(-90)" font-size="12" font-weight="bold" fill="#d9d9d9" text-anchor="end">may-20</text>
<text transform="translate(391.96 412.2) rotate(-90)" font-size="12" font-weight="bold" fill="#d9d9d9" text-anchor="end">jun-20</text>
<text transform="translate(412.88 412.2) rotate(-90)" font-size="12" font-weight="bold" fill="#d9d9d9" text-anchor="end">jul-20</text>
<text transform="translate(433.80 412.2) rotate(-90)" font-size="12" font-weight="bold" fill="#d9d9d9" text-anchor="end">ago-20</text>
<text transform="translate(454.72 412.2) rotate(-90)" font-size="12" font-weight="bold" fill="#d9d9d9" text-anchor="end">sep-20</text>
<text transform="translate(475.64 412.2) rotate(-90)" font-size="12" font-weight="bold" fill="#d9d9d9" text-anchor="end">oct-20</text>
<text transform="translate(496.56 412.2) rotate(-90)" font-size="12" font-weight="bold" fill="#d9d9d9" text-anchor="end">nov-20</text>
<text transform="translate(517.48 412.2) rotate(-90)" font-size="12" font-weight="bold" fill="#d9d9d9" text-anchor="end">dic-20</text>
<text transform="translate(538.40 412.2) rotate(-90)" font-size="12" font-weight="bold" fill="#d9d9d9" text-anchor="end">ene-21</text>
<text transform="translate(559.32 412.2) rotate(-90)" font-size="12" font-weight="bold" fill="#d9d9d9" text-anchor="end">feb-21</text>
<text transform="translate(580.24 412.2) rotate(-90)" font-size="12" font-weight="bold" fill="#d9d9d9" text-anchor="end">mar-21</text>
<text transform="translate(601.16 412.2) rotate(-90)" font-size="12" font-weight="bold" fill="#d9d9d9" text-anchor="end">abr-21</text>
<text transform="translate(622.08 412.2) rotate(-90)" font-size="12" font-weight="bold" fill="#d9d9d9" text-anchor="end">may-21</text>
<text transform="translate(643.00 412.2) rotate(-90)" font-size="12" font-weight="bold" fill="#d9d9d9" text-anchor="end">jun-21</text>
<text transform="translate(663.92 412.2) rotate(-90)" font-size="12" font-weight="bold" fill="#d9d9d9" text-anchor="end">jul-21</text>
<text transform="translate(684.84 412.2) rotate(-90)" font-size="12" font-weight="bold" fill="#d9d9d9" text-anchor="end">ago-21</text>
<text transform="translate(705.76 412.2) rotate(-90)" font-size="12" font-weight="bold" fill="#d9d9d9" text-anchor="end">sep-21</text>
<text transform="translate(726.68 412.2) rotate(-90)" font-size="12" font-weight="bold" fill="#d9d9d9" text-anchor="end">oct-21</text>
<text transform="translate(747.60 412.2) rotate(-90)" font-size="12" font-weight="bold" fill="#d9d9d9" text-anchor="end">nov-21</text>
<text transform="translate(768.52 412.2) rotate(-90)" font-size="12" font-weight="bold" fill="#d9d9d9" text-anchor="end">dic-21</text>
<text transform="translate(789.44 412.2) rotate(-90)" font-size="12" font-weight="bold" fill="#d9d9d9" text-anchor="end">ene-22</text>
<text transform="translate(810.36 412.2) rotate(-90)" font-size="12" font-weight="bold" fill="#d9d9d9" text-anchor="end">feb-22</text>
<text transform="translate(831.28 412.2) rotate(-90)" font-size="12" font-weight="bold" fill="#d9d9d9" text-anchor="end">mar-22</text>
<text transform="translate(852.20 412.2) rotate(-90)" font-size="12" font-weight="bold" fill="#d9d9d9" text-anchor="end">abr-22</text>
<text transform="translate(873.12 412.2) rotate(-90)" font-size="12" font-weight="bold" fill="#d9d9d9" text-anchor="end">may-22</text>
<text transform="translate(894.04 412.2) rotate(-90)" font-size="12" font-weight="bold" fill="#d9d9d9" text-anchor="end">jun-22</text>
<text transform="translate(914.96 412.2) rotate(-90)" font-size="12" font-weight="bold" fill="#d9d9d9" text-anchor="end">jul-22</text>
<text transform="translate(935.88 412.2) rotate(-90)" font-size="12" font-weight="bold" fill="#d9d9d9" text-anchor="end">ago-22</text>
<text transform="translate(956.80 412.2) rotate(-90)" font-size="12" font-weight="bold" fill="#d9d9d9" text-anchor="end">sep-22</text>
<text transform="translate(977.72 412.2) rotate(-90)" font-size="12" font-weight="bold" fill="#d9d9d9" text-anchor="end">oct-22</text>
<text transform="translate(998.64 412.2) rotate(-90)" font-size="12" font-weight="bold" fill="#d9d9d9" text-anchor="end">nov-22</text>
<text transform="translate(1019.56 412.2) rotate(-90)" font-size="12" font-weight="bold" fill="#d9d9d9" text-anchor="end">dic-22</text>
<text x="102.20" y="326.40" font-size="41.00" font-weight="bold" fill="#0a0a0a" letter-spacing="1.50" textLength="81.91" lengthAdjust="spacingAndGlyphs" stroke="#0a0a0a" stroke-width="1.2">36,661</text>
<rect x="65.20" y="177.00" width="154.20" height="37.70" fill="#fce4d6"/>
<text x="114.05" y="206.30" font-size="31.00" font-weight="bold" fill="#0a0a0a"  textLength="56.50" lengthAdjust="spacingAndGlyphs" stroke="#0a0a0a" stroke-width="0.5">3,055</text>
<rect x="65.20" y="478.30" width="154.20" height="38.30" fill="#fce4d6"/>
<text x="126.55" y="508.30" font-size="31.50" font-weight="bold" fill="#0a0a0a"  textLength="31.50" lengthAdjust="spacingAndGlyphs" stroke="#0a0a0a" stroke-width="0.5">100</text>
<text x="365.50" y="326.40" font-size="41.00" font-weight="bold" fill="#0a0a0a" letter-spacing="1.50" textLength="87.98" lengthAdjust="spacingAndGlyphs" stroke="#0a0a0a" stroke-width="1.2">36,773</text>
<rect x="332.00" y="176.90" width="153.20" height="38.00" fill="#f4b183"/>
<text x="380.35" y="206.20" font-size="31.00" font-weight="bold" fill="#0a0a0a"  textLength="56.50" lengthAdjust="spacingAndGlyphs" stroke="#0a0a0a" stroke-width="0.5">3,064</text>
<rect x="332.00" y="475.80" width="153.20" height="38.00" fill="#f4b183"/>
<text x="396.10" y="505.80" font-size="31.50" font-weight="bold" fill="#0a0a0a"  textLength="25.00" lengthAdjust="spacingAndGlyphs" stroke="#0a0a0a" stroke-width="0.5">101</text>
<text x="611.50" y="326.40" font-size="41.00" font-weight="bold" fill="#0a0a0a" letter-spacing="1.50" textLength="91.02" lengthAdjust="spacingAndGlyphs" stroke="#0a0a0a" stroke-width="1.2">35,625</text>
<rect x="580.00" y="176.90" width="152.20" height="38.00" fill="#ed7d31"/>
<text x="627.85" y="206.20" font-size="31.00" font-weight="bold" fill="#0a0a0a"  textLength="56.50" lengthAdjust="spacingAndGlyphs" stroke="#0a0a0a" stroke-width="0.5">2,969</text>
<rect x="580.00" y="480.00" width="152.20" height="37.50" fill="#ed7d31"/>
<text x="643.60" y="510.00" font-size="31.50" font-weight="bold" fill="#0a0a0a"  textLength="25.00" lengthAdjust="spacingAndGlyphs" stroke="#0a0a0a" stroke-width="0.5">98</text>
<text x="835.60" y="326.40" font-size="41.00" font-weight="bold" fill="#fdeee3" letter-spacing="1.50" textLength="81.41" lengthAdjust="spacingAndGlyphs" stroke="#fdeee3" stroke-width="1.2">21,350</text>
<rect x="798.50" y="179.20" width="153.90" height="38.10" fill="#843c0c" stroke="#6e5546" stroke-width="0.5"/>
<text x="847.20" y="208.50" font-size="31.00" font-weight="bold" fill="#ffffff"  textLength="56.50" lengthAdjust="spacingAndGlyphs" stroke="#ffffff" stroke-width="0.5">2,502</text>
<rect x="798.50" y="478.80" width="153.90" height="37.70" fill="#843c0c" stroke="#6e5546" stroke-width="0.5"/>
<text x="862.70" y="508.80" font-size="31.50" font-weight="bold" fill="#ffffff"  textLength="25.50" lengthAdjust="spacingAndGlyphs" stroke="#ffffff" stroke-width="0.5">83</text>
<rect x="0" y="516.6" width="1024" height="6" fill="#ffffff"/>
<text x="22.5" y="527.9" font-size="10" fill="#707070">Elaboración:</text>
<text x="304" y="527.5" font-size="8.5" fill="#808080" textLength="712" lengthAdjust="spacingAndGlyphs">FUENTE: SESNSP-CNI | Víctimas de homicidio doloso reportadas por fiscalías y procuradurías estatales; informe diario de Seguridad Pública, Gobierno de México</text>
</svg></body></html>
